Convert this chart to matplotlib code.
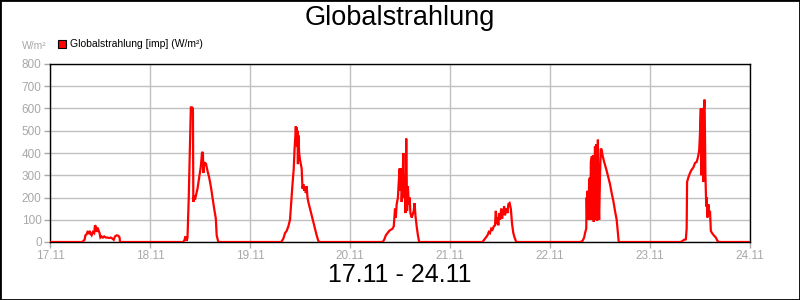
import numpy as np
import matplotlib
matplotlib.use("Agg")
import matplotlib.pyplot as plt
from matplotlib.patches import Rectangle

# Tageswerte: (Stunde, W/m²) je Tag
tag_17 = [(0, 0), (7.8, 0), (8.0, 5), (8.3, 10), (8.5, 30), (8.8, 35), (9.0, 45), (9.3, 40), (9.5, 50),
          (9.8, 35), (10.0, 30), (10.3, 45), (10.6, 40), (10.8, 75), (11.0, 70), (11.2, 45), (11.4, 65),
          (11.6, 55), (11.9, 40), (12.1, 20), (12.4, 25), (12.7, 20), (13.0, 25), (13.4, 20), (13.8, 20),
          (14.2, 18), (14.6, 20), (15.0, 15), (15.3, 10), (15.6, 25), (16.0, 30), (16.4, 28), (16.7, 20),
          (16.8, 0)]
tag_18 = [(8.0, 0), (8.3, 10), (8.5, 25), (8.8, 5), (9.0, 20), (9.3, 200), (9.6, 450), (9.8, 605),
          (10.1, 605), (10.3, 600), (10.4, 180), (10.6, 210), (10.8, 190), (11.1, 215), (11.4, 240),
          (11.8, 290), (12.2, 340), (12.5, 405), (12.7, 400), (12.8, 310), (13.0, 360), (13.2, 345),
          (13.4, 355), (13.8, 320), (14.2, 290), (14.6, 250), (15.0, 200), (15.4, 150), (15.8, 105),
          (16.0, 30), (16.2, 15), (16.4, 0)]
tag_19 = [(7.5, 0), (8.0, 15), (8.4, 40), (8.8, 50), (9.2, 70), (9.6, 100), (9.9, 180), (10.2, 260),
          (10.5, 330), (10.7, 420), (10.9, 480), (11.0, 520), (11.1, 460), (11.2, 515), (11.3, 430),
          (11.4, 500), (11.5, 350), (11.6, 480), (11.8, 400), (12.0, 370), (12.2, 350), (12.4, 330),
          (12.6, 240), (12.8, 260), (13.0, 230), (13.2, 250), (13.4, 220), (13.6, 250), (13.8, 200),
          (14.0, 180), (14.4, 150), (14.8, 120), (15.2, 90), (15.6, 60), (16.0, 30), (16.4, 5), (16.7, 0)]
tag_20 = [(7.8, 0), (8.2, 10), (8.6, 30), (9.0, 40), (9.4, 50), (9.8, 55), (10.2, 60), (10.5, 70),
          (10.8, 150), (11.0, 110), (11.2, 170), (11.5, 200), (11.7, 270), (11.9, 330), (12.0, 230),
          (12.2, 330), (12.4, 180), (12.6, 260), (12.8, 400), (12.9, 200), (13.1, 300), (13.3, 130),
          (13.5, 465), (13.7, 140), (13.9, 250), (14.1, 170), (14.3, 200), (14.5, 130), (14.8, 110),
          (15.0, 120), (15.3, 140), (15.5, 175), (15.7, 120), (16.0, 70), (16.3, 30), (16.6, 0)]
tag_21 = [(7.8, 0), (8.2, 10), (8.6, 20), (9.0, 30), (9.3, 45), (9.6, 40), (9.9, 60), (10.2, 55),
          (10.5, 70), (10.8, 75), (11.0, 140), (11.2, 80), (11.4, 110), (11.6, 75), (11.8, 130),
          (12.0, 100), (12.3, 150), (12.5, 105), (12.8, 140), (13.0, 160), (13.2, 120), (13.5, 150),
          (13.8, 130), (14.0, 170), (14.3, 175), (14.6, 150), (14.9, 80), (15.2, 40), (15.5, 20), (15.9, 0)]
tag_22 = [(7.3, 0), (7.8, 5), (8.2, 20), (8.4, 40), (8.7, 60), (8.8, 200), (8.9, 120), (9.0, 230),
          (9.2, 100), (9.4, 280), (9.6, 290), (9.7, 100), (9.8, 360), (10.0, 385), (10.2, 380),
          (10.3, 100), (10.4, 390), (10.5, 90), (10.7, 300), (10.8, 430), (11.0, 100), (11.1, 440),
          (11.3, 95), (11.5, 460), (11.6, 200), (11.8, 100), (12.0, 300), (12.2, 420), (12.4, 415),
          (12.6, 390), (13.0, 360), (13.6, 320), (14.0, 290), (14.4, 260), (14.8, 220), (15.2, 185),
          (15.6, 140), (16.0, 100), (16.3, 40), (16.5, 0)]
tag_23 = [(7.4, 0), (7.8, 5), (8.2, 10), (8.6, 12), (8.8, 60), (8.9, 270), (9.2, 290), (9.6, 310),
          (10.0, 325), (10.4, 335), (10.8, 355), (11.2, 360), (11.5, 380), (11.8, 410), (12.0, 490),
          (12.2, 600), (12.3, 300), (12.4, 600), (12.6, 420), (12.8, 270), (12.9, 590), (13.1, 640),
          (13.3, 300), (13.5, 160), (13.6, 200), (13.8, 110), (14.0, 170), (14.2, 130), (14.4, 140),
          (14.6, 50), (14.9, 40), (15.3, 30), (15.8, 20), (16.2, 5), (16.5, 0), (24, 0)]

tage = [tag_17, tag_18, tag_19, tag_20, tag_21, tag_22, tag_23]
x_labels = ["17.11", "18.11", "19.11", "20.11", "21.11", "22.11", "23.11", "24.11"]
y_ticks = [0, 100, 200, 300, 400, 500, 600, 700, 800]

zeit, wert = [], []
for i, tag in enumerate(tage):
    for h, v in tag:
        zeit.append(i * 24 + h)
        wert.append(v)

plt.rcParams['font.family'] = ['Liberation Sans', 'DejaVu Sans']
grau = '#a8a8a8'

fig = plt.figure(figsize=(8, 3), dpi=100)
ax = fig.add_axes([50 / 800, 58 / 300, 700 / 800, 178 / 300])

ax.plot(zeit, wert, color='#ff0000', linewidth=1.6, solid_joinstyle='miter', zorder=3,
        label='Globalstrahlung [imp] (W/m²)')

ax.set_xlim(0, 168)
ax.set_ylim(0, 800)
ax.set_xticks(np.arange(0, 169, 24))
ax.set_xticklabels(x_labels)
ax.set_yticks(y_ticks)
ax.grid(True, color='#c0c0c0', linewidth=1)
ax.set_axisbelow(True)
ax.tick_params(colors=grau, labelsize=8.5, length=4, width=1, pad=2)
for s in ax.spines.values():
    s.set_color('black')
    s.set_linewidth(1)

fig.text(0.5, 0.94, 'Globalstrahlung', ha='center', va='center', fontsize=19.5)
fig.text(0.5, 0.083, '17.11 - 24.11', ha='center', va='center', fontsize=18)
fig.text(22 / 800, 1 - 46 / 300, 'W/m²', ha='left', va='center', fontsize=7.5, color=grau)

# Legende oben links
fig.patches.append(Rectangle((58 / 800, 1 - 48 / 300), 8 / 800, 8 / 300, transform=fig.transFigure,
                             facecolor='#ff0000', edgecolor='black', linewidth=0.8))
fig.text(70 / 800, 1 - 44 / 300, 'Globalstrahlung [imp] (W/m²)', ha='left', va='center', fontsize=7.5)

fig.patches.append(Rectangle((0, 0), 1, 1, transform=fig.transFigure, fill=False,
                             edgecolor='black', linewidth=2))

fig.savefig('out.png', dpi=100, facecolor='white')
